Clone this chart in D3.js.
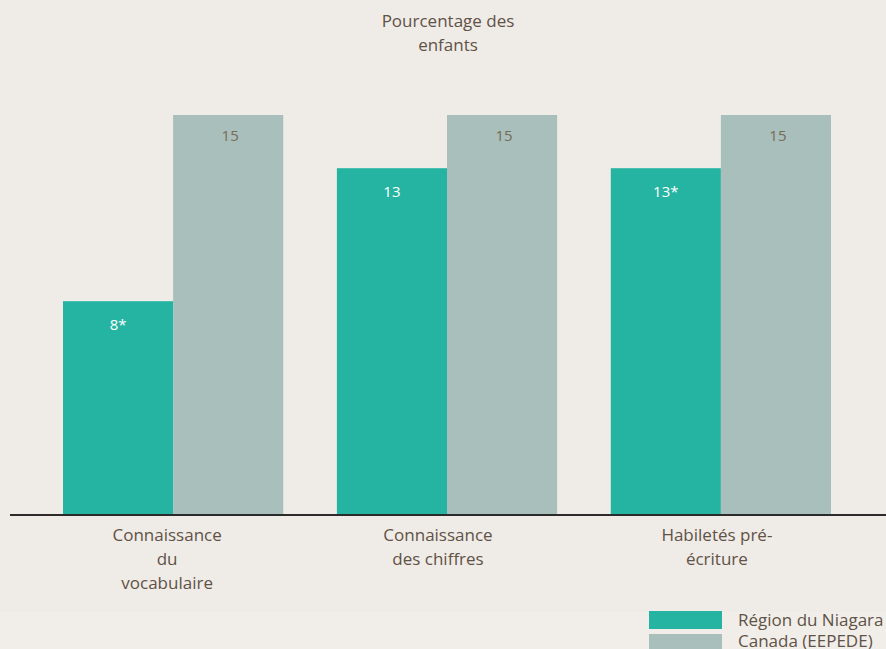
<!DOCTYPE html>
<html><head><meta charset="utf-8">
<script src="https://cdn.jsdelivr.net/npm/d3@7"></script>
<style>html,body{margin:0;padding:0;background:#efebe6;}svg{display:block;}</style>
</head><body>
<svg id="c" width="886" height="649"></svg>
<script>
const categories = [["Connaissance","du","vocabulaire"],["Connaissance","des chiffres"],["Habiletés pré-","écriture"]];
const categoryKeys = ["vocab","chiffres","ecriture"];
const seriesNames = ["Région du Niagara","Canada (EEPEDE)"];
const niagara = [8,13,13];
const canada = [15,15,15];
const niagaraLabels = ["8*","13","13*"];
const canadaLabels = ["15","15","15"];
const titleLines = ["Pourcentage des","enfants"];
const colors = ["#26b4a2","#a8bfbb"];

const svg = d3.select("#c");
const W = 886, H = 649;
const base = 514, top15 = 115;
const font = "'Open Sans', sans-serif";
const textCol = "#5f5246";
const labelDx = [-6,-9,-4];

svg.append("rect").attr("width",W).attr("height",H).attr("fill","#efebe6");
svg.append("rect").attr("y",612).attr("width",W).attr("height",H-612).attr("fill","#f1eeea");

const x0 = d3.scaleBand().domain(categoryKeys).range([63,831]).paddingInner(0.196).paddingOuter(0);
const x1 = d3.scaleBand().domain([0,1]).range([0,x0.bandwidth()]).padding(0);
const y = d3.scaleLinear().domain([0,15]).range([base, top15]);

const data = categoryKeys.map((k,i)=>({k, vals:[
  {s:0,v:niagara[i],lab:niagaraLabels[i]},
  {s:1,v:canada[i],lab:canadaLabels[i]}]}));

const g = svg.selectAll("g.grp").data(data).enter().append("g").attr("class","grp")
  .attr("transform",d=>`translate(${x0(d.k)},0)`);
g.selectAll("rect").data(d=>d.vals).enter().append("rect")
  .attr("x",d=>x1(d.s)).attr("width",x1.bandwidth())
  .attr("y",d=>y(d.v)).attr("height",d=>base-y(d.v))
  .attr("fill",d=>colors[d.s]);
g.selectAll("text.val").data(d=>d.vals).enter().append("text").attr("class","val")
  .attr("x",d=>x1(d.s)+x1.bandwidth()/2 + (d.s===1?2:0))
  .attr("y",d=>y(d.v)+ (d.s===0?29:26))
  .attr("text-anchor","middle")
  .attr("font-family",font).attr("font-size",15)
  .attr("fill",d=>d.s===0?"#ffffff":"#7a6a58")
  .text(d=>d.lab);

// axis baseline
const xAxis = d3.axisBottom(x0).tickSize(0).tickFormat("");
const ax = svg.append("g").attr("transform",`translate(0,${base})`).call(xAxis);
ax.select(".domain").remove();
svg.append("line").attr("x1",10).attr("x2",886).attr("y1",base+1).attr("y2",base+1)
  .attr("stroke","#2b2b2b").attr("stroke-width",2);

// category labels
categoryKeys.forEach((k,i)=>{
  const t = svg.append("text").attr("text-anchor","middle")
    .attr("font-family",font).attr("font-size",17).attr("fill",textCol);
  categories[i].forEach((line,j)=>{
    t.append("tspan").attr("x",x0(k)+x0.bandwidth()/2+labelDx[i]).attr("y",541+j*24).text(line);
  });
});

// title
const tt = svg.append("text").attr("text-anchor","middle")
  .attr("font-family","'Liberation Sans Narrow', 'Open Sans', sans-serif").attr("font-size",17).attr("fill",textCol);
titleLines.forEach((l,j)=>tt.append("tspan").attr("x",448).attr("y",27+j*24).text(l));

// legend
seriesNames.forEach((n,i)=>{
  svg.append("rect").attr("x",649).attr("y",611+i*23).attr("width",73).attr("height",18).attr("fill",colors[i]);
  svg.append("text").attr("x",738).attr("y",626+i*21).attr("font-family",font).attr("font-size",17)
    .attr("fill",textCol).text(n);
});
</script>
</body></html>
